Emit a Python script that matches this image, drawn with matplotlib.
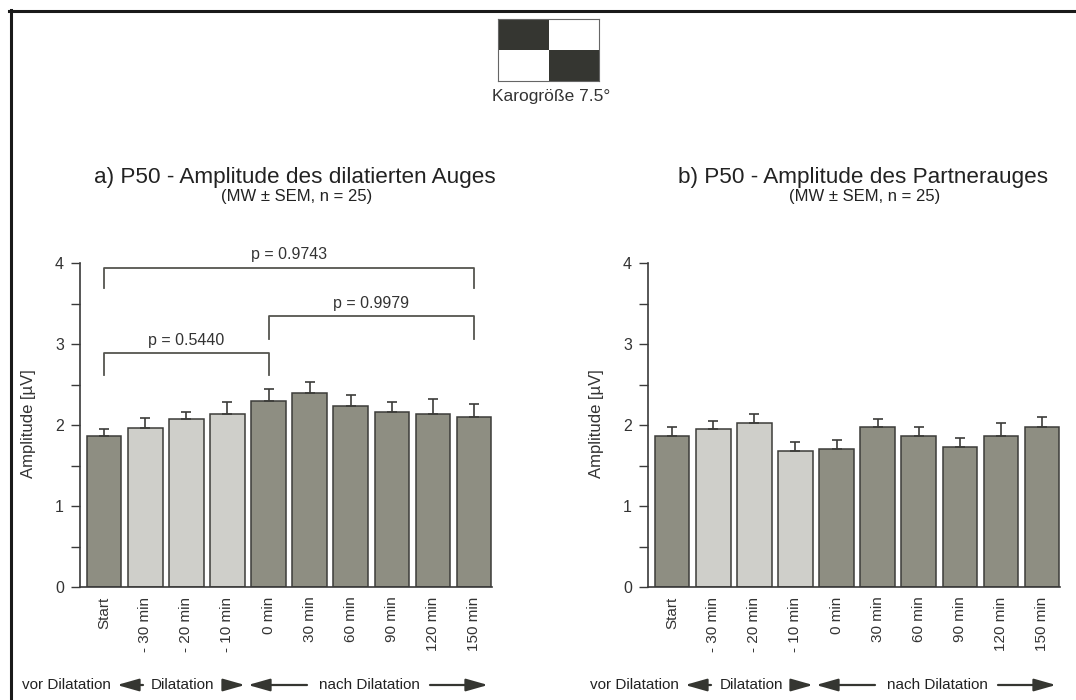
import matplotlib
matplotlib.use('Agg')
import matplotlib.pyplot as plt
from matplotlib.lines import Line2D
from matplotlib.patches import Rectangle, FancyArrowPatch
import numpy as np

plt.rcParams['font.family'] = ['Liberation Sans', 'DejaVu Sans']

# Data (P50 amplitude, MW +- SEM)
labels = ['Start', '- 30 min', '- 20 min', '- 10 min', '0 min',
          '30 min', '60 min', '90 min', '120 min', '150 min']
phase = ['vor', 'dil', 'dil', 'dil', 'nach', 'nach', 'nach', 'nach', 'nach', 'nach']

dilated_mean = [1.86, 1.96, 2.07, 2.14, 2.30, 2.40, 2.23, 2.16, 2.14, 2.10]
dilated_sem = [0.09, 0.13, 0.09, 0.14, 0.14, 0.13, 0.14, 0.12, 0.18, 0.16]

partner_mean = [1.86, 1.95, 2.02, 1.68, 1.70, 1.98, 1.86, 1.73, 1.86, 1.98]
partner_sem = [0.11, 0.10, 0.11, 0.11, 0.11, 0.09, 0.11, 0.11, 0.16, 0.12]

# significance brackets for panel a: (from bar, to bar, top, drop, text)
brackets = [(0, 9, 3.94, 3.69, 'p = 0.9743'),
            (0, 4, 2.885, 2.62, 'p = 0.5440'),
            (4, 9, 3.34, 3.06, 'p = 0.9979')]

W, H = 1076, 700
DARK = '#8e8e82'
LIGHT = '#cfcfca'
EDGE = '#3c3c39'
INK = '#353631'


def fx(px):
    return px / W


def fy(py):
    return 1 - py / H


fig = plt.figure(figsize=(W / 100, H / 100), dpi=100)

# frame lines (top and left)
fig.add_artist(Line2D([fx(9), fx(1076)], [fy(11), fy(11)], color='#1a1a1a', lw=2.2))
fig.add_artist(Line2D([fx(10.5), fx(10.5)], [fy(10), fy(700)], color='#1a1a1a', lw=2.2))

# checkerboard stimulus
cax = fig.add_axes([fx(498), fy(81), fx(101), 62 / H])
cax.set_xlim(0, 2)
cax.set_ylim(0, 2)
cax.add_patch(Rectangle((0, 1), 1, 1, color=INK, lw=0))
cax.add_patch(Rectangle((1, 0), 1, 1, color=INK, lw=0))
cax.set_xticks([])
cax.set_yticks([])
for s in cax.spines.values():
    s.set_color('#666666')
    s.set_linewidth(0.8)
fig.text(fx(551), fy(96), 'Karogröße 7.5°', ha='center', va='center',
         fontsize=12.5, color='#333333')


def panel(x0, means, sems, title, with_brackets):
    ax = fig.add_axes([fx(x0), fy(587), fx(412), 324 / H])
    x = np.arange(len(labels))
    colors = [LIGHT if p == 'dil' else DARK for p in phase]
    ax.bar(x, means, width=0.84, color=colors, edgecolor=EDGE, linewidth=1.1, zorder=2)
    ax.errorbar(x, means, yerr=[np.zeros(len(means)), sems], fmt='none',
                ecolor=EDGE, elinewidth=1.2, capsize=3.6, capthick=1.2, zorder=3)
    ax.set_xlim(-0.59, 9.44)
    ax.set_ylim(0, 4)
    ax.set_yticks([0, 1, 2, 3, 4])
    ax.set_yticks([0.5, 1.5, 2.5, 3.5], minor=True)
    ax.tick_params(axis='y', which='both', direction='out', length=6.5, width=1,
                   color='#3a3a3a', labelsize=11.5, labelcolor='#333333', pad=5)
    ax.set_xticks(x)
    ax.set_xticklabels(labels, rotation=90, fontsize=11, color='#333333')
    ax.tick_params(axis='x', length=0, pad=7)
    for s in ['top', 'right']:
        ax.spines[s].set_visible(False)
    for s in ['left', 'bottom']:
        ax.spines[s].set_color('#3a3a3a')
        ax.spines[s].set_linewidth(1.2)
    fig.text(fx(x0 - 51), fy(424), 'Amplitude [µV]', rotation=90, ha='center',
             va='center', fontsize=12, color='#333333')
    fig.text(fx(x0 + 215), fy(178), title, ha='center', va='center',
             fontsize=16.2, color='#222222')
    fig.text(fx(x0 + 217), fy(197), '(MW ± SEM, n = 25)', ha='center',
             va='center', fontsize=12, color='#222222')

    if with_brackets:
        for a, b, top, drop, txt in brackets:
            ax.plot([a, a, b, b], [drop, top, top, drop], color='#55554f',
                    lw=1.3, clip_on=False, zorder=4)
            ax.text((a + b) / 2, top + 0.16, txt, ha='center', va='center',
                    fontsize=11.5, color='#333333')

    # phase annotation row under the axis
    ty = fy(685)
    fig.text(fx(x0 - 58), ty, 'vor Dilatation', ha='left', va='center',
             fontsize=11, color='#222222')
    fig.text(fx(x0 + 103), ty, 'Dilatation', ha='center', va='center',
             fontsize=11, color='#222222')
    fig.text(fx(x0 + 289), ty, 'nach Dilatation', ha='center', va='center',
             fontsize=11, color='#222222')
    style = '-|>,head_length=0.95,head_width=0.27'
    for start, end in [(x0 + 63, x0 + 37), (x0 + 144, x0 + 165),
                       (x0 + 227, x0 + 168), (x0 + 350, x0 + 408)]:
        fig.add_artist(FancyArrowPatch((fx(start), ty), (fx(end), ty),
                                       transform=fig.transFigure,
                                       arrowstyle=style, mutation_scale=14,
                                       color=INK, lw=1.6,
                                       shrinkA=0, shrinkB=0))
    return ax


panel(80, dilated_mean, dilated_sem,
      'a) P50 - Amplitude des dilatierten Auges', True)
panel(648, partner_mean, partner_sem,
      'b) P50 - Amplitude des Partnerauges', False)

fig.savefig('out.png', dpi=100, facecolor='white')
